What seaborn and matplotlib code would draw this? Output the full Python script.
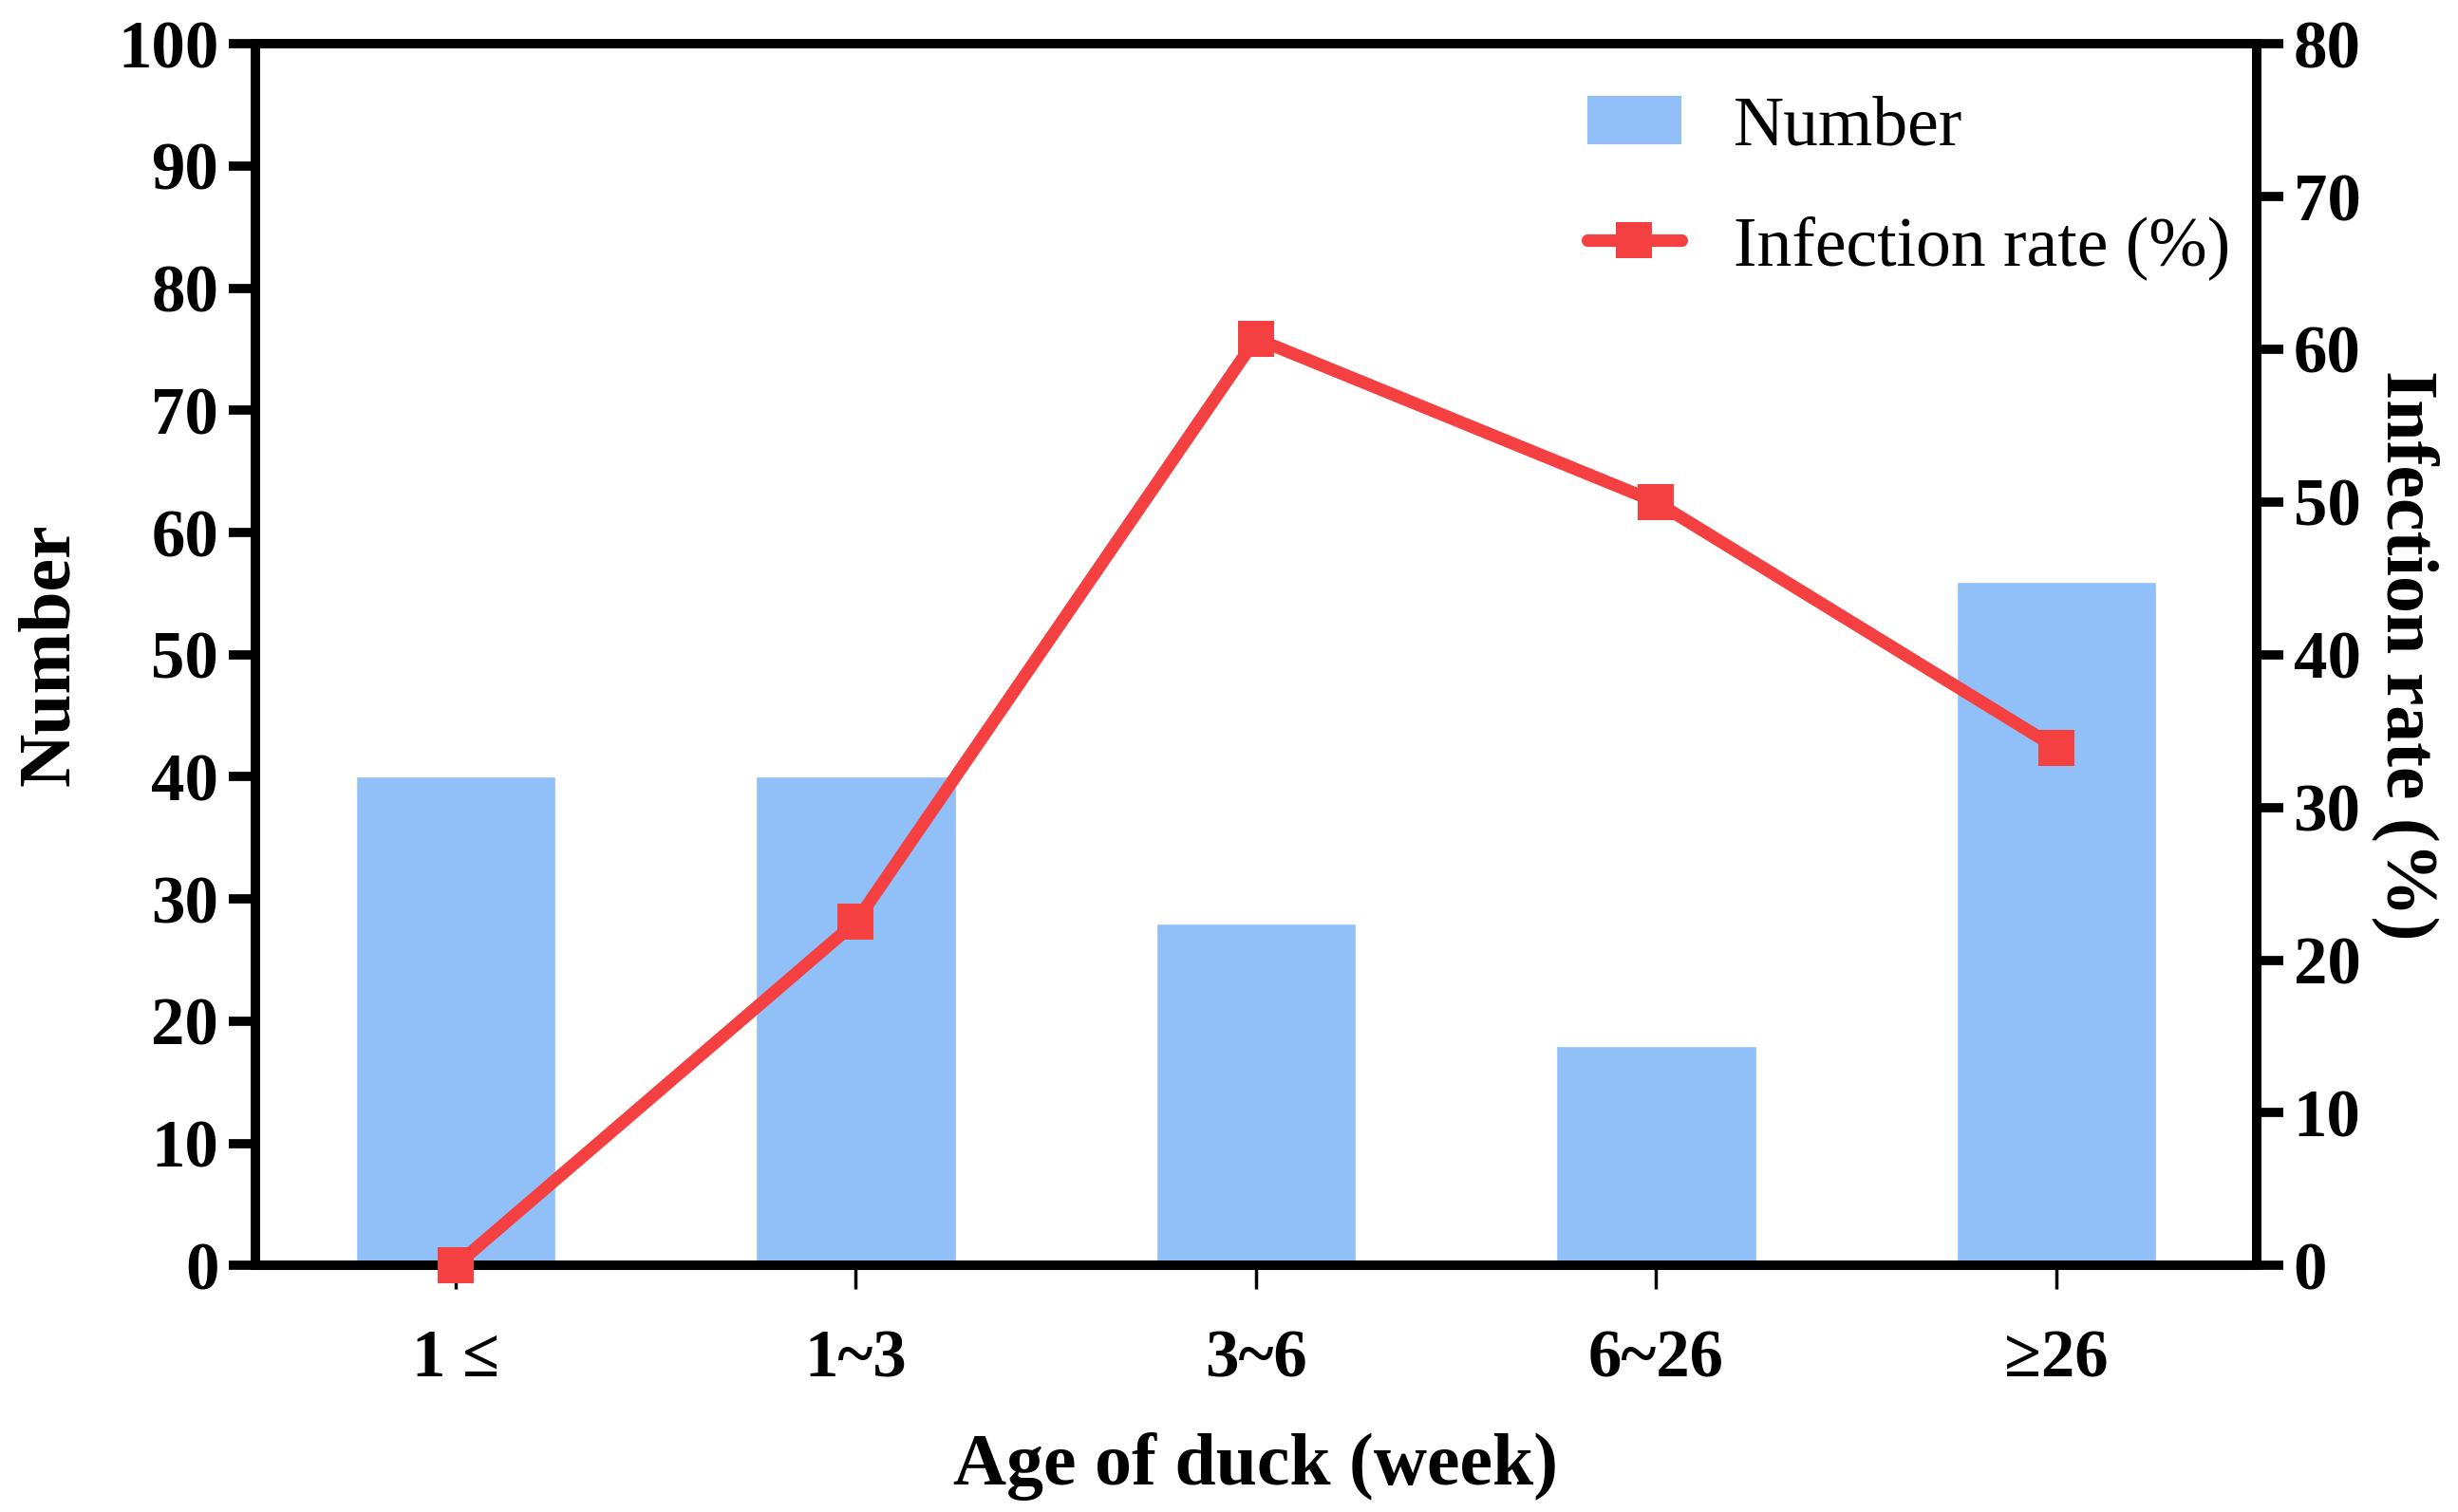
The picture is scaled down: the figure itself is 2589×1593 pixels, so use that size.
import matplotlib
matplotlib.use("Agg")
import matplotlib.pyplot as plt
import seaborn as sns
import numpy as np
import pandas as pd
from matplotlib.patches import Patch
from matplotlib.lines import Line2D

categories = ["1 \u2264", "1~3", "3~6", "6~26", "\u226526"]
numbers = [40, 40, 28, 18, 56]
infection_rate = [0, 22.5, 60.7, 50, 33.9]
left_ticks = list(range(0, 101, 10))
right_ticks = list(range(0, 81, 10))

sns.set_theme(style="white")
plt.rcParams['font.family'] = ['Liberation Serif', 'DejaVu Serif']
plt.rcParams['text.color'] = 'black'
plt.rcParams['axes.labelcolor'] = 'black'
plt.rcParams['xtick.color'] = 'black'
plt.rcParams['ytick.color'] = 'black'

bar_color = "#91BFF8"
line_color = "#F44040"

fig = plt.figure(figsize=(25.89, 15.93), dpi=100)
ax = fig.add_axes([0.104, 0.163, 0.814, 0.808])

df = pd.DataFrame({"Age": categories, "Number": numbers})
sns.barplot(data=df, x="Age", y="Number", color=bar_color, width=0.5,
            saturation=1, ax=ax, zorder=1)
ax.set_xlim(-0.5, 4.5)
ax.set_ylim(0, 100)
ax.set_yticks(left_ticks)

ax2 = ax.twinx()
pos = np.arange(len(categories))
sns.lineplot(x=pos, y=infection_rate, ax=ax2, color=line_color, linewidth=9.5,
             marker="s", markersize=28, markeredgewidth=0, clip_on=False, zorder=5)
ax2.set_ylim(0, 80)
ax2.set_yticks(right_ticks)
ax2.set_xlim(-0.5, 4.5)

fs_tick = 51
fs_label = 56
for a in (ax, ax2):
    for s in a.spines.values():
        s.set_linewidth(7)
        s.set_color("black")
        s.set_zorder(3)

ax.tick_params(axis="y", direction="out", length=20, width=7, labelsize=fs_tick, pad=8, left=True, colors="black")
ax.tick_params(axis="x", direction="out", length=18, width=2.5, labelsize=fs_tick, pad=30, bottom=True, colors="black")
ax2.tick_params(axis="y", direction="out", length=20, width=7, labelsize=fs_tick, pad=8, right=True, colors="black")

for lab in ax.get_xticklabels() + ax.get_yticklabels() + ax2.get_yticklabels():
    lab.set_fontweight("bold")

ax.set_xlabel("Age of duck (week)", fontsize=fs_label, fontweight="bold", labelpad=32, color="black")
ax.set_ylabel("Number", fontsize=fs_label, fontweight="bold", labelpad=25, color="black")
ax2.set_ylabel("Infection rate (%)", fontsize=fs_label, fontweight="bold",
               rotation=270, labelpad=60, color="black")

handles = [Patch(facecolor=bar_color, edgecolor="none"),
           Line2D([0], [0], color=line_color, linewidth=9.5, marker="s",
                  markersize=28, markeredgewidth=0)]
leg = ax2.legend(handles, ["Number", "Infection rate (%)"], loc="upper right",
                 bbox_to_anchor=(1.008, 0.992), frameon=False, fontsize=53,
                 handlelength=1.35, handletextpad=0.75, labelspacing=0.8, borderaxespad=0.2)
for t in leg.get_texts():
    t.set_color("black")

fig.savefig("out.png", dpi=100)
